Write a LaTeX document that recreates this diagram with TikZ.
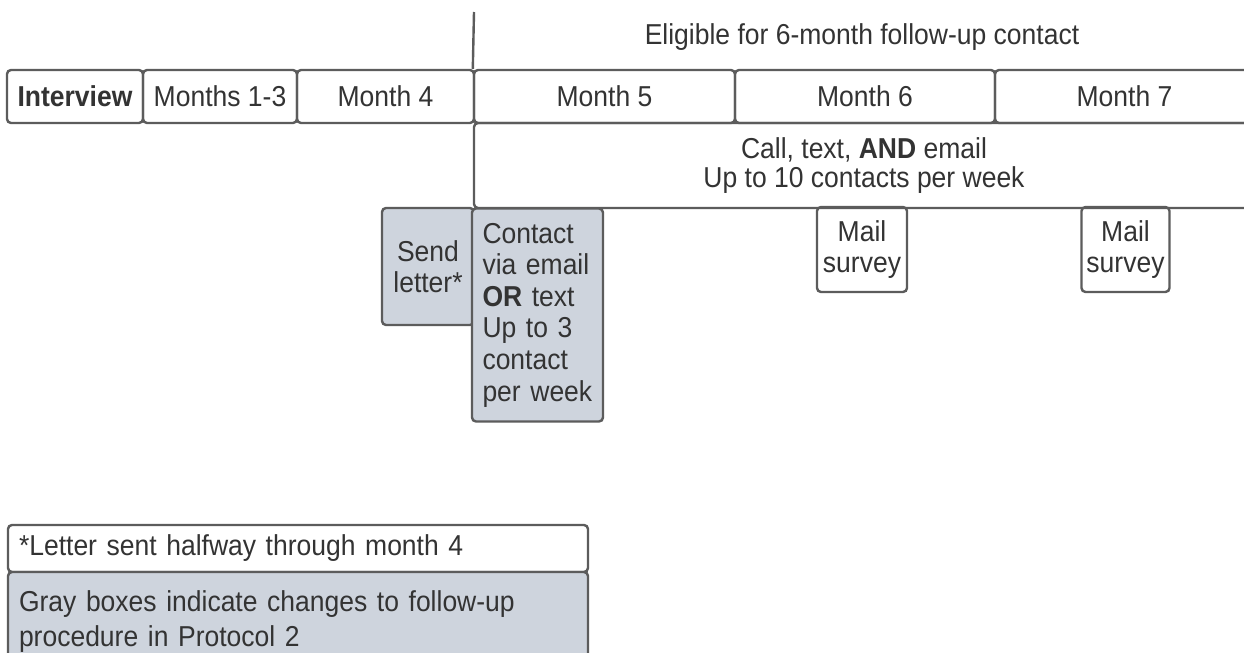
\documentclass[tikz,border=0pt]{standalone}
\usepackage{fontspec}
\setmainfont{Liberation Sans}[FakeStretch=0.92]
\definecolor{linec}{HTML}{5C5C5C}
\definecolor{textc}{HTML}{333333}
\definecolor{grayf}{HTML}{CED4DD}
\begin{document}
\begin{tikzpicture}[x=0.5pt,y=-0.5pt,
 box/.style={draw=linec, line width=1.2pt, rounded corners=2pt, inner sep=0pt, text=textc, font=\fontsize{14.4}{15.8}\selectfont},
 graybox/.style={box, fill=grayf},
 lbl/.style={text=textc, inner sep=0pt, font=\fontsize{14.4}{15.8}\selectfont},
 conn/.style={draw=linec, line width=1.2pt}]
\useasboundingbox[fill=white] (0,0) rectangle (1244,653);

% timeline row
\node[box, minimum width=68pt, minimum height=26.5pt] (int) at (75,96.5) {\bfseries Interview};
\node[box, minimum width=77pt, minimum height=26.5pt] (m13) at (220,96.5) {Months 1-3};
\node[box, minimum width=88.5pt, minimum height=26.5pt] (m4) at (385.5,96.5) {Month 4};
\node[box, minimum width=130.5pt, minimum height=26.5pt] (m5) at (604.5,96.5) {Month 5};
\node[box, minimum width=130pt, minimum height=26.5pt] (m6) at (865,96.5) {Month 6};
\node[box, minimum width=129.5pt, minimum height=26.5pt] (m7) at (1124.5,96.5) {Month 7};

% eligibility marker
\coordinate (vtop) at (474,12);
\draw[conn] (vtop) -- (m5.north west);
\node[lbl] (elig) at (862,37) {Eligible for 6-month follow-up contact};

% call box
\node[box, minimum width=390pt, minimum height=42.5pt, align=center,
      font=\fontsize{14.4}{14.5}\selectfont] (call) at (864,165.5)
  {Call, text, \textbf{AND} email\\Up to 10 contacts per week};

% gray boxes
\node[graybox, minimum width=46pt, minimum height=58.5pt, align=center,
      font=\fontsize{14.4}{15.5}\selectfont] (send) at (428,266.5) {Send\\letter*};
\node[graybox, minimum width=65.5pt, minimum height=106.5pt, text width=55pt, align=left,
      font=\fontsize{14.4}{15.8}\selectfont] (contact) at (537.5,315)
  {Contact\\via email\\\textbf{OR} text\\Up to 3\\contact\\per week};

% mail surveys
\node[box, minimum width=45pt, minimum height=42.5pt, align=center,
      font=\fontsize{14.4}{15.5}\selectfont] (ms1) at (862,249.5) {Mail\\survey};
\node[box, minimum width=44pt, minimum height=42.5pt, align=center,
      font=\fontsize{14.4}{15.5}\selectfont] (ms2) at (1125.5,249.5) {Mail\\survey};

% legend
\node[box, minimum width=290pt, minimum height=23.5pt, text width=279pt, align=left] (leg1) at (298,548.5)
  {*Letter sent halfway through month 4};
\node[graybox, minimum width=290pt, minimum height=50pt, text width=279pt, align=left,
      font=\fontsize{14.4}{17.5}\selectfont] (leg2) at (298,622)
  {Gray boxes indicate changes to follow-up\\procedure in Protocol 2};
\end{tikzpicture}
\end{document}
